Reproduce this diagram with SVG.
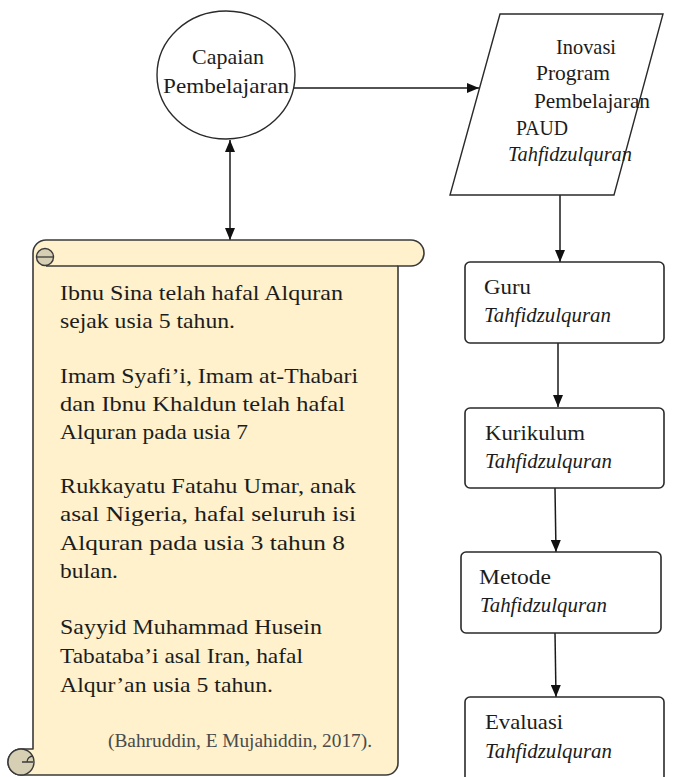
<svg xmlns="http://www.w3.org/2000/svg" width="699" height="777" viewBox="0 0 699 777">
  <defs>
    <marker id="arrow" viewBox="0 0 12 10" refX="12" refY="5" markerWidth="12" markerHeight="10" markerUnits="userSpaceOnUse" orient="auto-start-reverse">
      <path d="M0,0 L12,5 L0,10 Z" fill="#111"/>
    </marker>
    <style>
      .shape { fill: #ffffff; stroke: #2a2a2a; stroke-width: 1.4; }
      .box { fill: #ffffff; stroke: #2a2a2a; stroke-width: 1.6; }
      .scroll { fill: #fef1cb; stroke: #3a3a3a; stroke-width: 1.6; stroke-linejoin: round; }
      .curl { fill: #d6cfb4; stroke: #3a3a3a; stroke-width: 1.4; }
      .edge { fill: none; stroke: #1a1a1a; stroke-width: 1.5; }
      text { fill: #1c1c1c; }
      .lbl { font-size: 21px; }
      .it { font-size: 21px; font-style: italic; }
      .body { font-size: 22px; }
      .cite { font-size: 18px; fill: #4a4a4a; }
    </style>
  </defs>

  <rect width="699" height="777" fill="#ffffff"/>

  <!-- connectors -->
  <g id="connectors">
    <line class="edge" x1="294" y1="88" x2="479" y2="88" marker-end="url(#arrow)"/>
    <line class="edge" x1="230" y1="140" x2="230" y2="240" marker-start="url(#arrow)" marker-end="url(#arrow)"/>
    <line class="edge" x1="560" y1="195" x2="560" y2="262" marker-end="url(#arrow)"/>
    <line class="edge" x1="558" y1="343" x2="558" y2="407" marker-end="url(#arrow)"/>
    <line class="edge" x1="555" y1="488" x2="556" y2="552" marker-end="url(#arrow)"/>
    <line class="edge" x1="555" y1="633" x2="556" y2="697" marker-end="url(#arrow)"/>
  </g>

  <g font-family="'Liberation Serif', 'DejaVu Serif', 'Noto Serif', serif">
  <!-- start node -->
  <g id="capaian">
    <ellipse class="shape" cx="226" cy="75" rx="69" ry="64"/>
    <text class="lbl" x="228" y="64" text-anchor="middle" textLength="72" lengthAdjust="spacingAndGlyphs">Capaian</text>
    <text class="lbl" x="226" y="93" text-anchor="middle" textLength="126" lengthAdjust="spacingAndGlyphs">Pembelajaran</text>
  </g>

  <!-- input node -->
  <g id="inovasi">
    <polygon class="shape" points="500,14 663,14 614,195 450,195"/>
    <text class="lbl" x="556" y="54" textLength="60" lengthAdjust="spacingAndGlyphs">Inovasi</text>
    <text class="lbl" x="536" y="80" textLength="74" lengthAdjust="spacingAndGlyphs">Program</text>
    <text class="lbl" x="534" y="108" textLength="116" lengthAdjust="spacingAndGlyphs">Pembelajaran</text>
    <text class="lbl" x="516" y="135" textLength="52" lengthAdjust="spacingAndGlyphs">PAUD</text>
    <text class="it" x="508" y="161" textLength="124" lengthAdjust="spacingAndGlyphs">Tahfidzulquran</text>
  </g>

  <!-- process steps -->
  <g id="guru">
    <rect class="box" x="465" y="262" width="199" height="81" rx="5"/>
    <text class="lbl" x="484" y="294" textLength="47" lengthAdjust="spacingAndGlyphs">Guru</text>
    <text class="it" x="484" y="322" textLength="127" lengthAdjust="spacingAndGlyphs">Tahfidzulquran</text>
  </g>
  <g id="kurikulum">
    <rect class="box" x="465" y="408" width="199" height="80" rx="5"/>
    <text class="lbl" x="485" y="440" textLength="100" lengthAdjust="spacingAndGlyphs">Kurikulum</text>
    <text class="it" x="485" y="468" textLength="127" lengthAdjust="spacingAndGlyphs">Tahfidzulquran</text>
  </g>
  <g id="metode">
    <rect class="box" x="461" y="552" width="200" height="81" rx="5"/>
    <text class="lbl" x="479" y="584" textLength="72" lengthAdjust="spacingAndGlyphs">Metode</text>
    <text class="it" x="480" y="612" textLength="127" lengthAdjust="spacingAndGlyphs">Tahfidzulquran</text>
  </g>
  <g id="evaluasi">
    <rect class="box" x="465" y="697" width="199" height="90" rx="5"/>
    <text class="lbl" x="485" y="729" textLength="78" lengthAdjust="spacingAndGlyphs">Evaluasi</text>
    <text class="it" x="485" y="758" textLength="127" lengthAdjust="spacingAndGlyphs">Tahfidzulquran</text>
  </g>

  <!-- scroll note -->
  <g id="scroll">
    <path class="scroll" d="M33,253 A13,13 0 0 1 46,240 H411 A13,13 0 0 1 411,266 H398 V763 A12,12 0 0 1 386,775 H21 A13,13 0 0 1 21,749 H33 Z"/>
    <path class="edge" style="stroke:#3a3a3a" d="M46,266 H398"/>
    <circle class="curl" cx="45" cy="257" r="8.5"/>
    <path class="edge" style="stroke:#3a3a3a;stroke-width:1.3" d="M36.5,257 H53.5"/>
    <circle class="curl" cx="21" cy="762" r="13"/>
    <path class="edge" style="stroke:#3a3a3a;stroke-width:1.3" d="M22,762 H33 M27,762 A6,6 0 0 1 33,756"/>
    <text class="body" x="60" y="300" textLength="283" lengthAdjust="spacingAndGlyphs">Ibnu Sina telah hafal Alquran</text>
    <text class="body" x="60" y="328" textLength="175" lengthAdjust="spacingAndGlyphs">sejak usia 5 tahun.</text>
    <text class="body" x="60" y="383" textLength="298" lengthAdjust="spacingAndGlyphs">Imam Syafi’i, Imam at-Thabari</text>
    <text class="body" x="60" y="411" textLength="285" lengthAdjust="spacingAndGlyphs">dan Ibnu Khaldun telah hafal</text>
    <text class="body" x="60" y="439" textLength="188" lengthAdjust="spacingAndGlyphs">Alquran pada usia 7</text>
    <text class="body" x="60" y="493" textLength="296" lengthAdjust="spacingAndGlyphs">Rukkayatu  Fatahu Umar, anak</text>
    <text class="body" x="60" y="521" textLength="296" lengthAdjust="spacingAndGlyphs">asal Nigeria, hafal seluruh isi</text>
    <text class="body" x="60" y="550" textLength="285" lengthAdjust="spacingAndGlyphs">Alquran pada usia 3 tahun 8</text>
    <text class="body" x="60" y="578" textLength="58" lengthAdjust="spacingAndGlyphs">bulan.</text>
    <text class="body" x="60" y="634" textLength="262" lengthAdjust="spacingAndGlyphs">Sayyid Muhammad Husein</text>
    <text class="body" x="60" y="663" textLength="243" lengthAdjust="spacingAndGlyphs">Tabataba’i asal Iran, hafal</text>
    <text class="body" x="60" y="692" textLength="213" lengthAdjust="spacingAndGlyphs">Alqur’an usia 5 tahun.</text>
    <text class="cite" x="108" y="747" textLength="264" lengthAdjust="spacingAndGlyphs">(Bahruddin, E Mujahiddin, 2017).</text>
  </g>
  </g>
</svg>
